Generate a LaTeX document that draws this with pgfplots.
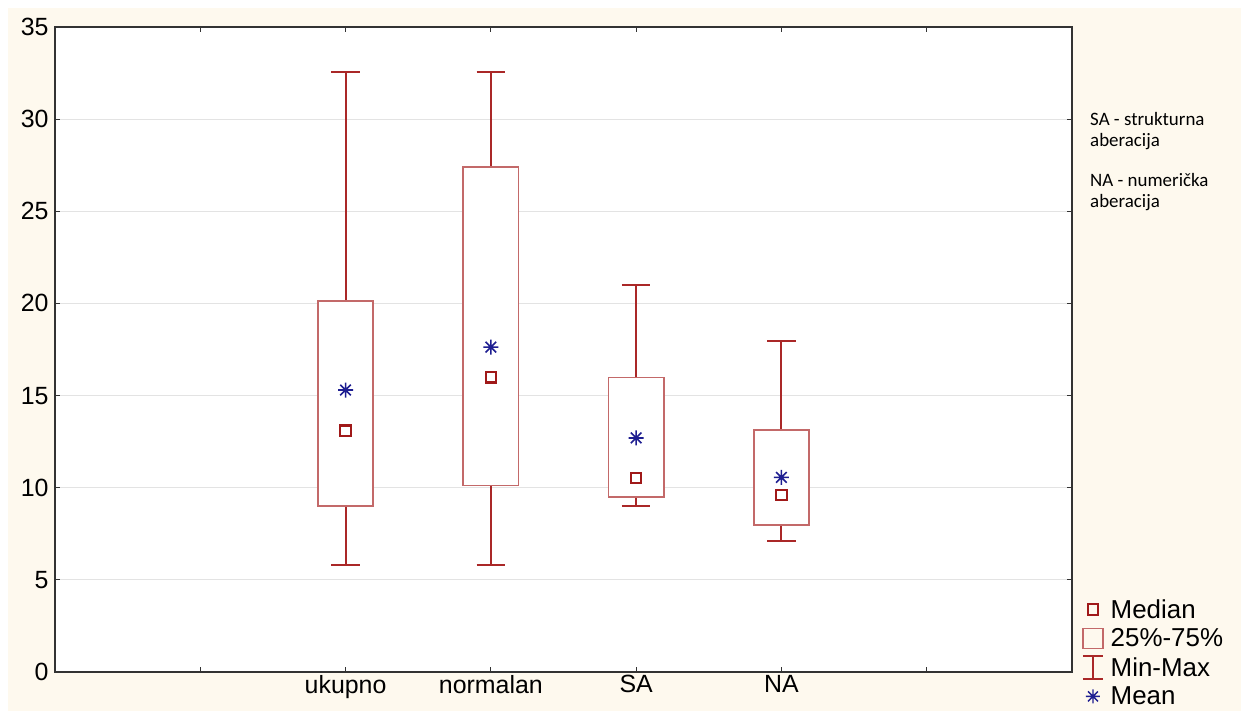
\documentclass[border=0pt]{standalone}
\usepackage{pgfplots}
\pgfplotsset{compat=1.18}
\usepgfplotslibrary{statistics}
\usepackage{fontspec}
\setmainfont{Liberation Sans}
\newfontfamily\carlito{Carlito}
\definecolor{cream}{RGB}{254,249,238}
\definecolor{whisk}{RGB}{170,40,40}
\definecolor{boxc}{RGB}{195,105,105}
\definecolor{medc}{RGB}{160,25,25}
\definecolor{meanc}{RGB}{30,30,145}
\pgfdeclareplotmark{ast8}{%
 \pgfpathmoveto{\pgfqpoint{0pt}{\pgfplotmarksize}}\pgfpathlineto{\pgfqpoint{0pt}{-\pgfplotmarksize}}%
 \pgfpathmoveto{\pgfqpoint{\pgfplotmarksize}{0pt}}\pgfpathlineto{\pgfqpoint{-\pgfplotmarksize}{0pt}}%
 \pgfpathmoveto{\pgfqpoint{0.707\pgfplotmarksize}{0.707\pgfplotmarksize}}\pgfpathlineto{\pgfqpoint{-0.707\pgfplotmarksize}{-0.707\pgfplotmarksize}}%
 \pgfpathmoveto{\pgfqpoint{-0.707\pgfplotmarksize}{0.707\pgfplotmarksize}}\pgfpathlineto{\pgfqpoint{0.707\pgfplotmarksize}{-0.707\pgfplotmarksize}}%
 \pgfusepathqstroke}
\begin{document}
\begin{tikzpicture}
\fill[white] (0,0) rectangle (1241bp,711bp);
\fill[cream] (8bp,0) rectangle (1241bp,703bp);
\begin{axis}[
  at={(55bp,39bp)}, anchor=south west,
  scale only axis, width=1017bp, height=645bp,
  clip=false,
  xmin=0, xmax=7, ymin=0, ymax=35,
  xtick={1,2,3,4,5,6},
  xticklabels={,ukupno,normalan,SA,NA,},
  xticklabel pos=lower,
  ytick={0,5,...,35},
  yticklabel pos=left,
  ymajorgrids,
  grid style={gray!22, line width=1.2pt},
  axis background/.style={fill=white},
  axis line style={black!80, line width=1.5pt},
  tick align=inside,
  major tick length=5bp,
  tick style={black!80, line width=1.2pt},
  tick label style={font=\fontsize{25}{28}\selectfont},
  yticklabel style={xshift=-3bp},
  /pgf/number format/assume math mode=true,
  boxplot/draw direction=y,
  boxplot/box extend=0.38,
  boxplot/whisker extend=0.195,
  boxplot/draw/median/.code={},
  boxplot/every box/.style={draw=boxc, fill=white, line width=1.6pt},
  boxplot/every whisker/.style={draw=whisk, line width=2pt},
  legend style={at={(1.0098,0.116)}, anchor=north west, draw=none, fill=none,
    font=\fontsize{26}{29}\selectfont, row sep=5bp, inner sep=0pt, column sep=5bp},
  legend cell align=left,
]
\addlegendimage{only marks, mark=square, mark size=5.2bp, mark options={draw=medc, line width=2pt}}
\addlegendentry{Median}
\addlegendimage{only marks, mark=square, mark size=10bp, mark options={draw=boxc, fill=white, line width=1.4pt}}
\addlegendentry{25\%-75\%}
\addlegendimage{legend image code/.code={\draw[whisk, line width=1.6pt] (0.3cm,-11.5bp)--(0.3cm,11.5bp) (0.3cm-10bp,-11.5bp)--(0.3cm+10bp,-11.5bp) (0.3cm-10bp,11.5bp)--(0.3cm+10bp,11.5bp);}}
\addlegendentry{Min-Max}
\addlegendimage{only marks, mark=ast8, mark size=7bp, mark options={draw=meanc, line width=1.4pt}}
\addlegendentry{Mean}

\addplot[forget plot, boxplot prepared={draw position=2, lower whisker=5.8, lower quartile=9.0, median=13.09, upper quartile=20.13, upper whisker=32.56}] coordinates {};
\addplot[forget plot, boxplot prepared={draw position=3, lower whisker=5.8, lower quartile=10.13, median=15.99, upper quartile=27.4, upper whisker=32.56}] coordinates {};
\addplot[forget plot, boxplot prepared={draw position=4, lower whisker=9.0, lower quartile=9.51, median=10.53, upper quartile=15.99, upper whisker=21.0}] coordinates {};
\addplot[forget plot, boxplot prepared={draw position=5, lower whisker=7.12, lower quartile=7.99, median=9.60, upper quartile=13.13, upper whisker=17.96}] coordinates {};

\addplot[forget plot, only marks, mark=square, mark size=5.2bp, mark options={draw=medc, fill=white, line width=2.2pt}] coordinates {(2,13.09) (3,15.99) (4,10.53) (5,9.60)};
\addplot[forget plot, only marks, mark=ast8, mark size=7.5bp, mark options={draw=meanc, line width=1.6pt}] coordinates {(2,15.30) (3,17.63) (4,12.70) (5,10.56)};

\node[anchor=north west, align=left, inner sep=0pt, font=\carlito\fontsize{19}{21}\selectfont] at (rel axis cs:1.0177,0.868) {SA - strukturna\\aberacija\\[19bp]NA - numerička\\aberacija};
\end{axis}
\end{tikzpicture}
\end{document}
